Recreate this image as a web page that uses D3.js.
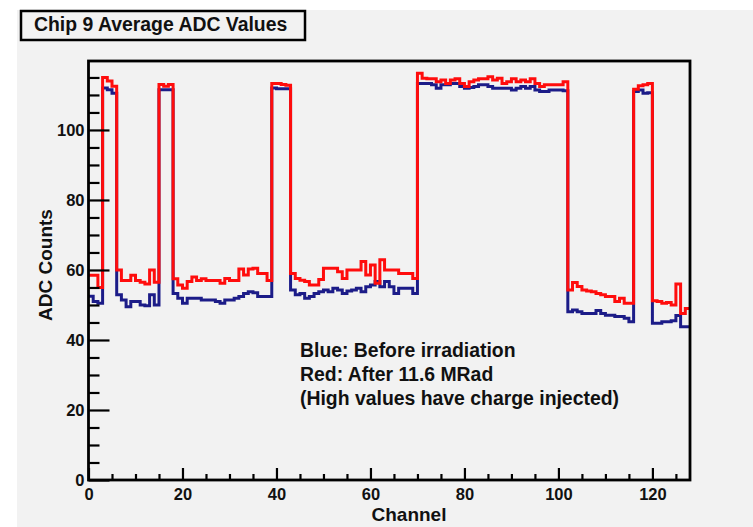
<!DOCTYPE html>
<html>
<head>
<meta charset="utf-8">
<script src="https://cdn.jsdelivr.net/npm/d3@7"></script>
<style>
  body { margin: 0; background: #ffffff; }
  svg text { font-family: "Liberation Sans", Arial, Helvetica, sans-serif; font-weight: bold; fill: #111; }
</style>
</head>
<body>
<div id="chart"></div>
<script>
// Chart data
var chartTitle = "Chip 9 Average ADC Values";
var xTitle = "Channel";
var yTitle = "ADC Counts";
var notes = ["Blue: Before irradiation", "Red: After 11.6 MRad", "(High values have charge injected)"];

var xMajorTicks = [0, 20, 40, 60, 80, 100, 120];
var yMajorTicks = [0, 20, 40, 60, 80, 100];

// 128 channels, one value per channel
var redValues = [
  58.5, 58.5, 55, 115, 114, 112.5, 60, 57, 57, 58.5,
  57, 56.5, 56, 60, 56.5, 113, 112.5, 113, 57.5, 55.7,
  54.8, 56.7, 58, 57, 57.5, 57, 57, 57, 56.2, 57.6,
  57, 57, 60.3, 58.6, 60.3, 60.5, 59, 59, 57, 113.3,
  113.3, 113, 112.8, 59, 57.6, 57.1, 56.7, 55.7, 55.7, 57.3,
  60.5, 60.5, 60.5, 59.5, 57.6, 60, 60, 60, 62.4, 58.6,
  61.4, 56.2, 62.9, 60, 60, 60, 59, 59, 59, 57.6,
  116.2, 114.8, 114.6, 114.6, 113.8, 114.3, 113.3, 114.3, 114.6, 113.3,
  112.4, 113.8, 114.3, 114.6, 114.6, 115.2, 114.3, 114.8, 113.3, 113.8,
  114.6, 113.8, 114.3, 113.8, 114.6, 113.3, 112.4, 112.9, 112.9, 112.9,
  112.9, 113.8, 54.3, 56.4, 55.3, 54.3, 54, 53.8, 53.3, 52.9,
  52.4, 52.4, 51, 51.9, 50.5, 50.5, 111.6, 112.6, 112.9, 113.3,
  51.2, 51, 50.5, 50.7, 50, 56, 47.6, 49
];

var blueValues = [
  52.5, 51, 50.5, 112, 111.5, 110.5, 52.9, 51.4, 49.5, 51,
  51, 50, 49.8, 52.9, 50, 111.5, 111.5, 111.5, 53.3, 51.9,
  50.5, 51.9, 51.9, 51.9, 51.4, 51.4, 51.4, 51, 50.5, 51.4,
  51.4, 51.9, 52.4, 53.3, 53.8, 53.5, 52.4, 52.4, 52.4, 112,
  111.8, 111.8, 111.8, 54.3, 52.9, 53.3, 51.9, 52.4, 53.3, 53.8,
  54.3, 53.8, 54.8, 54.3, 53.3, 54, 54.3, 54.8, 53.8, 55.2,
  55.7, 56.7, 55.2, 56.7, 55.2, 53.3, 54.8, 54.8, 54.8, 53.3,
  113.3, 113.3, 113.3, 112.9, 111.9, 112.9, 112.9, 113.3, 113.3, 112.4,
  111.9, 112.1, 112.4, 112.9, 112.9, 112.4, 111.9, 111.9, 111.9, 111.9,
  111.4, 111.9, 112.4, 111.9, 112.4, 111.4, 111, 111, 111.4, 111.4,
  111.4, 111.2, 48.1, 48.6, 48.1, 47.6, 47.6, 47.6, 48.4, 47.6,
  47.1, 47.1, 46.7, 46.7, 46.2, 45.2, 111, 111.4, 110.5, 110.6,
  44.8, 44.8, 45.2, 45.2, 45.5, 47, 43.8, 43.8
];

var svgWidth = 753;
var svgHeight = 527;

var frame = { left: 88.5, right: 690, top: 61, bottom: 480 };

var svg = d3.select("#chart")
  .append("svg")
  .attr("width", svgWidth)
  .attr("height", svgHeight);

// canvas background
svg.append("rect")
  .attr("x", 17).attr("y", 10)
  .attr("width", svgWidth - 17).attr("height", svgHeight - 10)
  .attr("fill", "#f2f2f2");

// scales
var x = d3.scaleLinear().domain([0, 128]).range([frame.left, frame.right]);
var y = d3.scaleLinear().domain([0, 119.7]).range([frame.bottom, frame.top]);

// histogram outlines
function histPoints(values) {
  var pts = values.map((v, i) => [i, v]);
  pts.push([values.length, values[values.length - 1]]);
  return pts;
}

var stepLine = d3.line()
  .x(d => x(d[0]))
  .y(d => y(d[1]))
  .curve(d3.curveStepAfter);

svg.append("path")
  .attr("d", stepLine(histPoints(blueValues)))
  .attr("fill", "none")
  .attr("stroke", "#1c1c88")
  .attr("stroke-width", 3);

svg.append("path")
  .attr("d", stepLine(histPoints(redValues)))
  .attr("fill", "none")
  .attr("stroke", "#ff0d0d")
  .attr("stroke-width", 3);

// minor ticks (every 5)
var xMinor = d3.range(0, 129, 5).filter(d => d % 20 !== 0);
var yMinor = d3.range(0, 120, 5).filter(d => d % 20 !== 0);

var xMinorAxis = d3.axisBottom(x).tickValues(xMinor).tickSizeInner(-6).tickSizeOuter(0).tickFormat("");
var yMinorAxis = d3.axisLeft(y).tickValues(yMinor).tickSizeInner(-11).tickSizeOuter(0).tickFormat("");

var xAxis = d3.axisBottom(x).tickValues(xMajorTicks).tickSizeInner(-12).tickSizeOuter(0).tickPadding(8);
var yAxis = d3.axisLeft(y).tickValues(yMajorTicks).tickSizeInner(-21).tickSizeOuter(0).tickPadding(4);

[xMinorAxis, xAxis].forEach(function(ax) {
  svg.append("g")
    .attr("class", "x-axis")
    .attr("transform", `translate(0, ${frame.bottom})`)
    .call(ax);
});
[yMinorAxis, yAxis].forEach(function(ax) {
  svg.append("g")
    .attr("class", "y-axis")
    .attr("transform", `translate(${frame.left}, 0)`)
    .call(ax);
});

svg.selectAll(".x-axis .domain, .y-axis .domain").remove();
svg.selectAll(".x-axis line, .y-axis line")
  .attr("stroke", "#000")
  .attr("stroke-width", 2.2);
svg.selectAll(".x-axis text, .y-axis text")
  .attr("font-size", 16.5)
  .attr("font-family", "\"Liberation Sans\", Arial, sans-serif")
  .attr("font-weight", "bold")
  .attr("fill", "#111");

// frame
svg.append("rect")
  .attr("x", frame.left).attr("y", frame.top)
  .attr("width", frame.right - frame.left)
  .attr("height", frame.bottom - frame.top)
  .attr("fill", "none")
  .attr("stroke", "#000")
  .attr("stroke-width", 2.8);

// axis titles
svg.append("text")
  .attr("x", 409)
  .attr("y", 521)
  .attr("text-anchor", "middle")
  .attr("font-size", 19)
  .text(xTitle);

svg.append("text")
  .attr("transform", "translate(52, 265) rotate(-90)")
  .attr("text-anchor", "middle")
  .attr("font-size", 19)
  .text(yTitle);

// title box
svg.append("rect")
  .attr("x", 21).attr("y", 11)
  .attr("width", 284).attr("height", 29)
  .attr("fill", "#f2f2f2")
  .attr("stroke", "#000")
  .attr("stroke-width", 2.5);

svg.append("text")
  .attr("x", 34)
  .attr("y", 31)
  .attr("font-size", 19.4)
  .text(chartTitle);

// notes
svg.selectAll(".note")
  .data(notes)
  .enter()
  .append("text")
  .attr("class", "note")
  .attr("x", 300)
  .attr("y", (d, i) => 357 + i * 24)
  .attr("font-size", 19.4)
  .text(d => d);
</script>
</body>
</html>
